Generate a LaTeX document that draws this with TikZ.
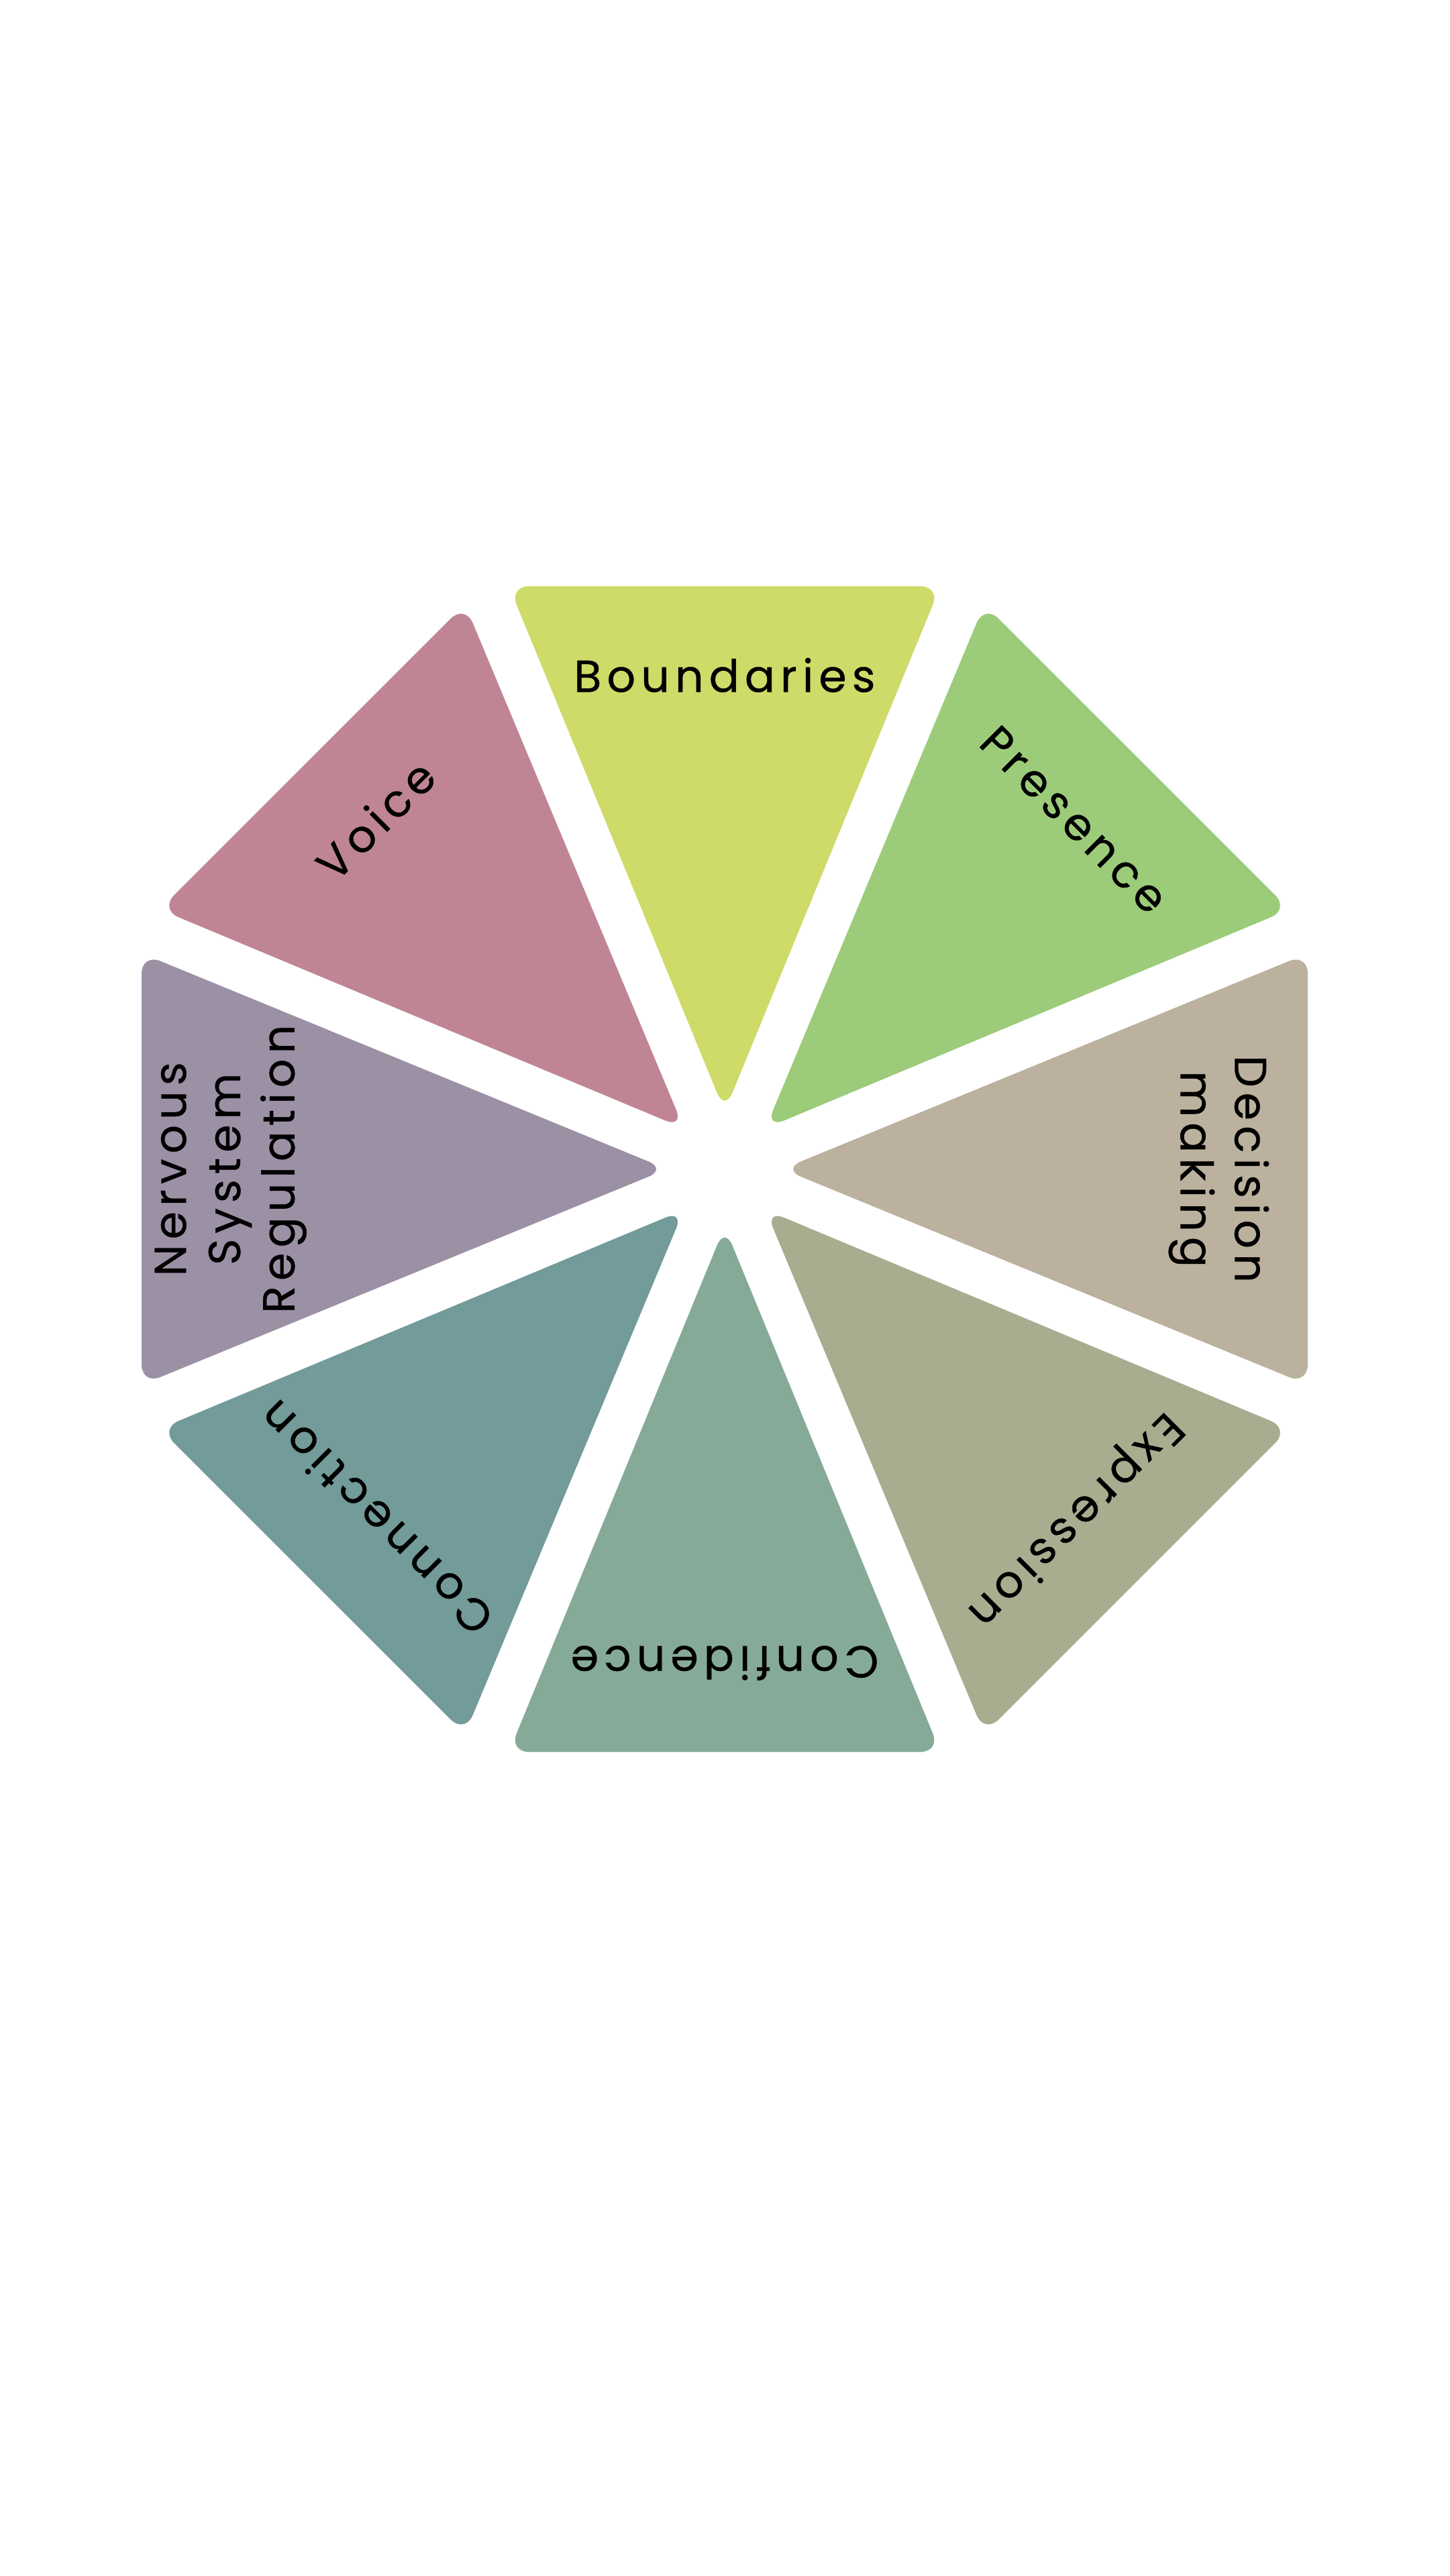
\documentclass[tikz,border=0pt]{standalone}
\usepackage{fontspec}
\setmainfont[LetterSpace=12,FakeBold=0.6]{Poppins}
\definecolor{c0}{HTML}{CEDB68}
\definecolor{c1}{HTML}{9CCC7A}
\definecolor{c2}{HTML}{BBB19E}
\definecolor{c3}{HTML}{A7AD8F}
\definecolor{c4}{HTML}{86AA98}
\definecolor{c5}{HTML}{729B9A}
\definecolor{c6}{HTML}{9C90A5}
\definecolor{c7}{HTML}{C08594}
\begin{document}
\begin{tikzpicture}[x=0.024545cm,y=0.024545cm,
  lbl/.style={font=\fontsize{19}{23}\selectfont, align=center, text=black, inner sep=0pt}]
\fill[white] (0,0) rectangle (880,1564.4);
\useasboundingbox (0,0) rectangle (880,1564.4);
\foreach \k/\t in {0/Boundaries,1/Presence,2/{Decision\\making},3/Expression,4/Confidence,5/Connection,6/{Nervous\\System\\Regulation},7/Voice}{
  \begin{scope}[shift={(440,854.4)},rotate={-45*\k}]
    \fill[c\k, rounded corners=0.3cm] (0,35) -- (-131,354) -- (131,354) -- cycle;
    \node[lbl, rotate={-45*\k}] (n\k) at (0,300) {\t};
  \end{scope}
}
\end{tikzpicture}
\end{document}
